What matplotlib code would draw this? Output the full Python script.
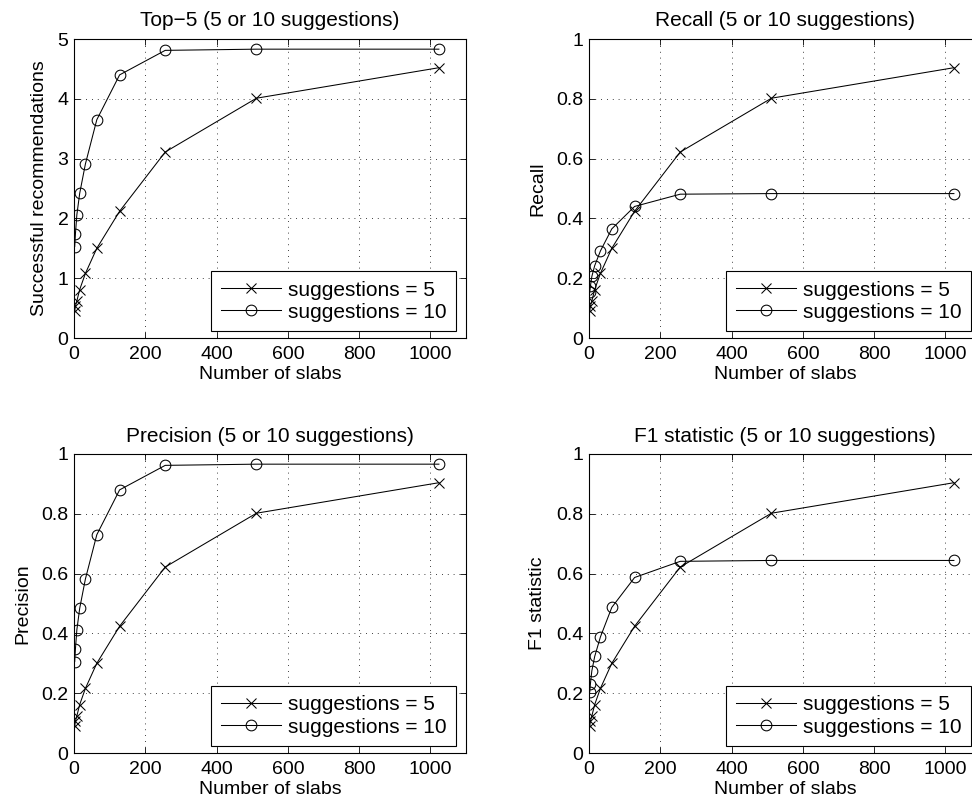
import matplotlib.pyplot as plt
import numpy as np

plt.rcParams['font.family'] = ['Liberation Sans', 'DejaVu Sans']
plt.rcParams['font.size'] = 14

slabs = [2, 4, 8, 16, 32, 64, 128, 256, 512, 1024]

top5_s5 = [0.45, 0.53, 0.62, 0.81, 1.08, 1.50, 2.12, 3.11, 4.01, 4.52]
top5_s10 = [1.53, 1.74, 2.06, 2.42, 2.91, 3.65, 4.40, 4.81, 4.83, 4.83]

recall_s5 = [0.09, 0.106, 0.124, 0.162, 0.216, 0.30, 0.424, 0.622, 0.802, 0.904]
recall_s10 = [0.153, 0.174, 0.206, 0.242, 0.291, 0.365, 0.44, 0.481, 0.483, 0.483]

precision_s5 = [0.09, 0.106, 0.124, 0.162, 0.216, 0.30, 0.424, 0.622, 0.802, 0.904]
precision_s10 = [0.306, 0.348, 0.412, 0.484, 0.582, 0.73, 0.88, 0.962, 0.966, 0.966]

f1_s5 = [0.09, 0.106, 0.124, 0.162, 0.216, 0.30, 0.424, 0.622, 0.802, 0.904]
f1_s10 = [0.204, 0.232, 0.275, 0.323, 0.388, 0.487, 0.587, 0.641, 0.644, 0.644]

panels = [
    ("Top\u22125 (5 or 10 suggestions)", "Successful recommendations", top5_s5, top5_s10, 5),
    ("Recall (5 or 10 suggestions)", "Recall", recall_s5, recall_s10, 1),
    ("Precision (5 or 10 suggestions)", "Precision", precision_s5, precision_s10, 1),
    ("F1 statistic (5 or 10 suggestions)", "F1 statistic", f1_s5, f1_s10, 1),
]

W, H = 972, 806
fig = plt.figure(figsize=(W / 100, H / 100), dpi=100)
lefts = [74, 589]
tops = [39, 454]
aw, ah = 392, 299

for i, (title, ylabel, s5, s10, ymax) in enumerate(panels):
    col, row = i % 2, i // 2
    ax = fig.add_axes([lefts[col] / W, 1 - (tops[row] + ah) / H, aw / W, ah / H])
    ax.plot(slabs, s5, '-x', color='k', lw=0.75, ms=7, mew=0.75, label='suggestions = 5')
    ax.plot(slabs, s10, '-o', color='k', lw=0.75, ms=7.7, mew=0.75, mfc='none',
            label='suggestions = 10')
    ax.set_xlim(0, 1100)
    ax.set_ylim(0, ymax)
    ax.set_xticks(np.arange(0, 1001, 200))
    if ymax == 5:
        ax.set_yticks(np.arange(0, 6, 1))
    else:
        ax.set_yticks(np.round(np.arange(0, 1.01, 0.2), 1))
        ax.set_yticklabels(['0', '0.2', '0.4', '0.6', '0.8', '1'])
    ax.grid(True, color='k', linestyle=(0, (1, 6)), linewidth=0.6)
    ax.tick_params(direction='in', top=True, right=True, length=4, width=0.6)
    ax.tick_params(axis='x', pad=6)
    ax.tick_params(axis='y', pad=4)
    for sp in ax.spines.values():
        sp.set_linewidth(0.8)
    ax.set_title(title, pad=9, fontsize=15)
    ax.set_xlabel("Number of slabs", labelpad=2)
    ax.set_ylabel(ylabel, labelpad=7)
    leg = ax.legend(loc='lower right', bbox_to_anchor=(1 - 10 / aw, 7 / ah),
                    borderaxespad=0, fancybox=False, edgecolor='k', framealpha=1,
                    fontsize=15, handlelength=2.9, handletextpad=0.33,
                    borderpad=0.45, labelspacing=0.15)
    leg.get_frame().set_linewidth(0.8)

plt.savefig("out.png", dpi=100)
